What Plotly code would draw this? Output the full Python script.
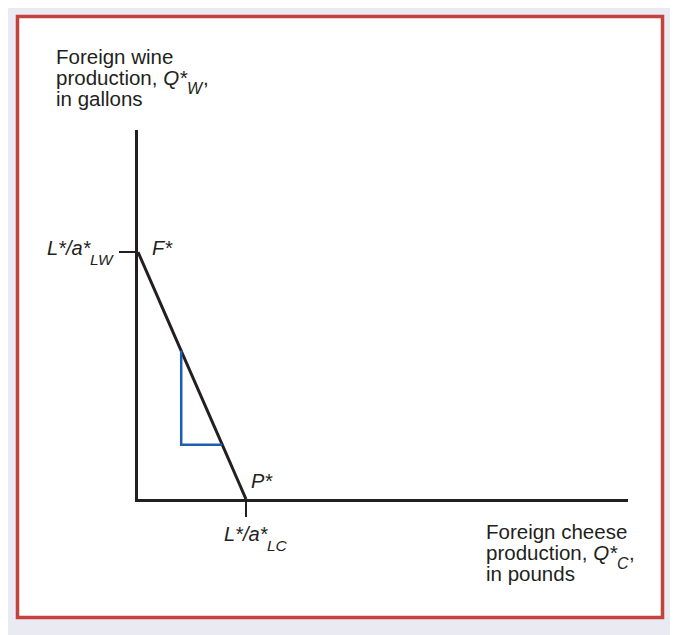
import plotly.graph_objects as go

# ---------------- data (economic units) ----------------
wine_intercept = 1000     # L*/a*_LW  (gallons of wine if all labour goes to wine)
cheese_intercept = 400    # L*/a*_LC  (pounds of cheese if all labour goes to cheese)
ppf_x = [0, cheese_intercept]
ppf_y = [wine_intercept, 0]
# slope triangle under the PPF
tri_x = [160, 160, 312]
tri_y = [600, 220, 220]
x_axis_max = 1815
y_axis_max = 1494
x_tick_vals = [cheese_intercept]
y_tick_vals = [wine_intercept]

# ---------------- styling ----------------
W, H = 678, 635
FONT = "Liberation Sans, Arial, Helvetica, sans-serif"
INK = "#231F20"
BLUE = "#1B5EAB"
RED = "#C4423C"
BG = "#EAEAF2"
TS = 20.5          # title font size


def px(x):
    return x / W


def py(y):
    return 1 - y / H


def label(x, base, text, size=20, italic=False, anchor="left"):
    t = f"<i>{text}</i>" if italic else text
    return dict(xref="paper", yref="paper", x=px(x), y=py(base - 0.35 * size),
                text=t, showarrow=False, xanchor=anchor, yanchor="middle",
                borderpad=0, borderwidth=0,
                font=dict(family=FONT, size=size, color=INK))


fig = go.Figure()
fig.add_trace(go.Scatter(x=ppf_x, y=ppf_y, mode="lines",
                         line=dict(color=INK, width=3), hoverinfo="skip",
                         showlegend=False))
fig.add_trace(go.Scatter(x=tri_x, y=tri_y, mode="lines",
                         line=dict(color=BLUE, width=2.5), hoverinfo="skip",
                         showlegend=False))

annotations = [
    # y-axis title
    label(48, 56, "Foreign wine", size=TS),
    label(48, 77, "production, <i>Q*</i>", size=TS),
    label(179, 86, "W", size=16, italic=True),
    label(195, 77, ",", size=TS),
    label(48, 98, "in gallons", size=TS),
    # x-axis title
    label(478, 531, "Foreign cheese", size=TS),
    label(478, 552, "production, <i>Q*</i>", size=TS),
    label(609, 561, "C", size=16, italic=True),
    label(621, 552, ",", size=TS),
    label(478, 573, "in pounds", size=TS),
    # intercept labels
    label(39, 247, "L*/a*", italic=True),
    label(82, 257, "LW", size=15.5, italic=True),
    label(144, 247, "F*", italic=True),
    label(243, 480, "P*", italic=True),
    label(216, 533, "L*/a*", italic=True),
    label(259, 543, "LC", size=15.5, italic=True),
]

fig.update_layout(
    width=W, height=H,
    margin=dict(l=0, r=0, t=0, b=0),
    paper_bgcolor=BG,
    plot_bgcolor="rgba(0,0,0,0)",
    showlegend=False,
    annotations=annotations,
    shapes=[dict(type="rect", xref="paper", yref="paper",
                 x0=px(9.5), x1=px(654.5), y0=py(609.5), y1=py(8.5),
                 line=dict(color=RED, width=3.5), fillcolor="white",
                 layer="below")],
    xaxis=dict(domain=[px(130), px(620)], range=[0, x_axis_max],
               showline=True, linecolor=INK, linewidth=3,
               showgrid=False, zeroline=False,
               tickvals=x_tick_vals, ticks="outside", ticklen=15,
               tickwidth=1.5, tickcolor=INK, showticklabels=False,
               fixedrange=True),
    yaxis=dict(domain=[py(491), py(122)], range=[0, y_axis_max],
               showline=True, linecolor=INK, linewidth=3,
               showgrid=False, zeroline=False,
               tickvals=y_tick_vals, ticks="outside", ticklen=16,
               tickwidth=1.5, tickcolor=INK, showticklabels=False,
               fixedrange=True),
)

fig.write_html("out.html")
